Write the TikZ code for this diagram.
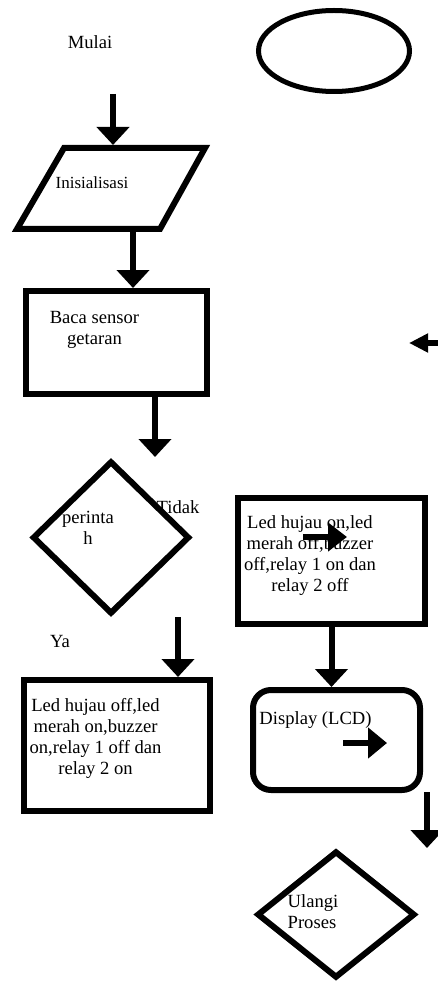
\documentclass[tikz,border=0pt]{standalone}
\usepackage{fontspec}
\setmainfont{Liberation Serif}
\usetikzlibrary{arrows.meta,shapes.geometric}
\begin{document}
\begin{tikzpicture}[x=1pt,y=-1pt,
  shapeline/.style={draw=black,line width=6pt},
  boxnode/.style={shapeline,rectangle,inner sep=0pt},
  % multi-line labels are anchored at the baseline of their last line
  lbl/.style={font=\fontsize{18.6}{21}\selectfont,inner sep=0pt,anchor=base,align=center},
  flowarrow/.style={line width=6pt,-{Triangle[width=32pt,length=18pt]}},
  smallarrow/.style={line width=6.5pt,-{Triangle[width=#1,length=19pt]}},
]
\useasboundingbox (0,0) rectangle (438,984);

% --- labels (drawn first so outlines and arrows sit on top) ---
\node[lbl] (mulai) at (90,49) {Mulai};
\node[lbl,font=\fontsize{17}{20}\selectfont] (initext) at (92,189) {Inisialisasi};
\node[lbl] (bacatext) at (94.5,344) {Baca sensor\\getaran};
\node[lbl] (cektext) at (88,544) {perinta\\h};
\node[lbl] (tidak) at (178,513) {Tidak};
\node[lbl] (ya) at (60,647) {Ya};
\node[lbl] (ontext) at (310,591) {Led hujau on,led\\merah off,buzzer\\off,relay 1 on dan\\relay 2 off};
\node[lbl] (offtext) at (95.5,774) {Led hujau off,led\\merah on,buzzer\\on,relay 1 off dan\\relay 2 on};
\node[lbl] (lcdtext) at (315.5,724) {Display (LCD)};
\node[lbl,align=left] (ulangtext) at (313,928) {Ulangi\\Proses};

% --- shapes ---
\node[ellipse,shapeline,line width=5pt,inner sep=0pt,minimum width=151pt,minimum height=81pt] (startoval) at (334,51) {};
\draw[shapeline] (64,148) -- (205,148) -- (160,229) -- (17,229) -- cycle;
\coordinate (initop) at (113,145);
\coordinate (inibot) at (133,232);
\node[boxnode,minimum width=181pt,minimum height=103pt] (baca) at (116.5,342.5) {};
\node[diamond,shapeline,inner sep=0pt,minimum width=157pt,minimum height=153pt] (cek) at (111,537.5) {};
\node[boxnode,minimum width=187pt,minimum height=126pt] (onbox) at (331.5,561) {};
\node[boxnode,minimum width=186pt,minimum height=131pt] (offbox) at (117,745.5) {};
\node[boxnode,rounded corners=18pt,minimum width=167pt,minimum height=100pt] (lcd) at (336.5,740) {};
\node[diamond,shapeline,inner sep=0pt,minimum width=158pt,minimum height=127pt] (ulang) at (336,914.5) {};

% --- connectors ---
\coordinate (a1s) at (113,94);
\draw[flowarrow] (a1s) -- (initop);
\draw[flowarrow] (inibot) -- (baca.north -| inibot);
\coordinate (a3e) at (155,457);
\draw[flowarrow] (baca.south -| a3e) -- (a3e);
\coordinate (a4s) at (438,343);
\coordinate (a4e) at (409,343);
\draw[smallarrow=18pt] (a4s) -- (a4e);
\coordinate (a5s) at (303,537);
\coordinate (a5e) at (347,537);
\draw[smallarrow=28pt] (a5s) -- (a5e);
\draw[flowarrow] (onbox.south) -- (onbox.south |- lcd.north);
\coordinate (a7s) at (178,617);
\draw[flowarrow] (a7s) -- (a7s |- offbox.north);
\coordinate (a8s) at (343,743);
\coordinate (a8e) at (387,743);
\draw[smallarrow=30pt] (a8s) -- (a8e);
\coordinate (a9s) at (427,792);
\coordinate (a9e) at (427,848);
\draw[flowarrow] (a9s) -- (a9e);
\end{tikzpicture}
\end{document}
